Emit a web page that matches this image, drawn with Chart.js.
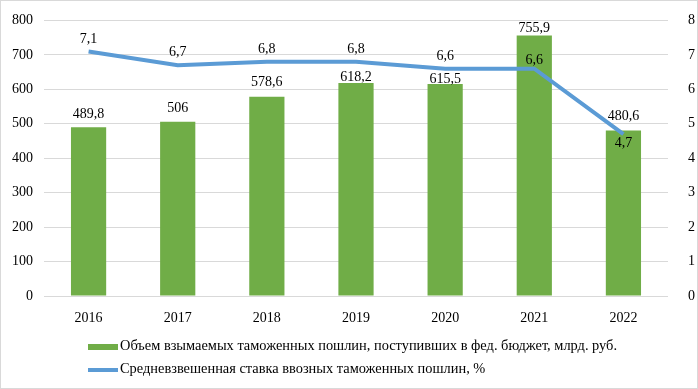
<!DOCTYPE html>
<html>
<head>
<meta charset="utf-8">
<script src="https://cdn.jsdelivr.net/npm/chart.js@4/dist/chart.umd.min.js"></script>
<style>
	body { margin: 0; background: #fff; }
	.wrap { position: relative; width: 698px; height: 389px; box-sizing: border-box; border: 1px solid #d9d9d9; }
	canvas { position: absolute; left: -1px; top: -1px; }
	.legend { position: absolute; left: 87px; top: 333px; font: 14.4px "Liberation Serif", serif; color: #000; }
	.legend div { height: 23px; line-height: 23px; white-space: nowrap; }
	.legend span { display: inline-block; width: 30px; vertical-align: middle; margin-right: 2px; }
</style>
</head>
<body>
<div class="wrap">
	<canvas id="chart" width="698" height="389"></canvas>
	<div class="legend" id="legend"></div>
</div>
<script>
const years = ['2016', '2017', '2018', '2019', '2020', '2021', '2022'];
const duties = [489.8, 506, 578.6, 618.2, 615.5, 755.9, 480.6];
const rates = [7.1, 6.7, 6.8, 6.8, 6.6, 6.6, 4.7];
const leftTicks = [0, 100, 200, 300, 400, 500, 600, 700, 800];
const rightTicks = [0, 1, 2, 3, 4, 5, 6, 7, 8];

const dutyLabel = 'Объем взымаемых таможенных пошлин, поступивших в фед. бюджет, млрд. руб.';
const rateLabel = 'Средневзвешенная ставка ввозных таможенных пошлин, %';

// label gaps, px (negative = above the mark)
const barGap = [-13, -13, -14, -6, -5, -7, -14];
const lineGap = [-12, -13, -12, -12, -12, -8, 9];

const font = '"Liberation Serif", "Times New Roman", serif';
const green = '#70ad47';
const blue = '#5b9bd5';

const valueLabels = {
	id: 'valueLabels',
	afterDatasetsDraw(chart) {
		const ctx = chart.ctx;
		ctx.save();
		ctx.font = '14px ' + font;
		ctx.fillStyle = '#000';
		ctx.textAlign = 'center';
		ctx.textBaseline = 'middle';
		chart.getDatasetMeta(1).data.forEach(function(el, i) {
			ctx.fillText(String(duties[i]).replace('.', ','), el.x, el.y + barGap[i]);
		});
		chart.getDatasetMeta(0).data.forEach(function(el, i) {
			ctx.fillText(String(rates[i]).replace('.', ','), el.x, el.y + lineGap[i]);
		});
		ctx.restore();
	}
};

const config = {
	data: {
		labels: years,
		datasets: [{
			type: 'line',
			label: rateLabel,
			data: rates,
			yAxisID: 'y1',
			borderColor: blue,
			borderWidth: 4,
			pointRadius: 0,
			tension: 0,
			order: 0
		}, {
			type: 'bar',
			label: dutyLabel,
			data: duties,
			yAxisID: 'y',
			backgroundColor: green,
			categoryPercentage: 1,
			barPercentage: 0.395,
			order: 1
		}]
	},
	options: {
		responsive: false,
		animation: false,
		layout: {padding: {top: 18, bottom: 63, left: 0, right: 0}},
		plugins: {
			legend: {display: false},
			tooltip: {enabled: false}
		},
		scales: {
			x: {
				grid: {display: false},
				border: {display: false},
				ticks: {color: '#000', font: {family: font, size: 14}, padding: 6},
				afterFit: (scale) => { scale.height = 30; }
			},
			y: {
				position: 'left',
				min: 0,
				max: 800,
				afterBuildTicks: (scale) => { scale.ticks = leftTicks.map(v => ({value: v})); },
				grid: {color: '#d9d9d9', lineWidth: 1, drawTicks: false},
				border: {display: false},
				ticks: {color: '#000', font: {family: font, size: 14}, padding: 11},
				afterFit: (scale) => { scale.width = 44; }
			},
			y1: {
				position: 'right',
				min: 0,
				max: 8,
				afterBuildTicks: (scale) => { scale.ticks = rightTicks.map(v => ({value: v})); },
				grid: {display: false},
				border: {display: false},
				ticks: {color: '#000', font: {family: font, size: 14}, padding: 12},
				afterFit: (scale) => { scale.width = 30; }
			}
		}
	},
	plugins: [valueLabels]
};

new Chart(document.getElementById('chart').getContext('2d'), config);

// legend below the plot, one entry per row
const legend = document.getElementById('legend');
[{label: dutyLabel, color: green, h: 6}, {label: rateLabel, color: blue, h: 4}].forEach(function(item) {
	const row = document.createElement('div');
	const mark = document.createElement('span');
	mark.style.height = item.h + 'px';
	mark.style.background = item.color;
	row.appendChild(mark);
	row.appendChild(document.createTextNode(item.label));
	legend.appendChild(row);
});
</script>
</body>
</html>
